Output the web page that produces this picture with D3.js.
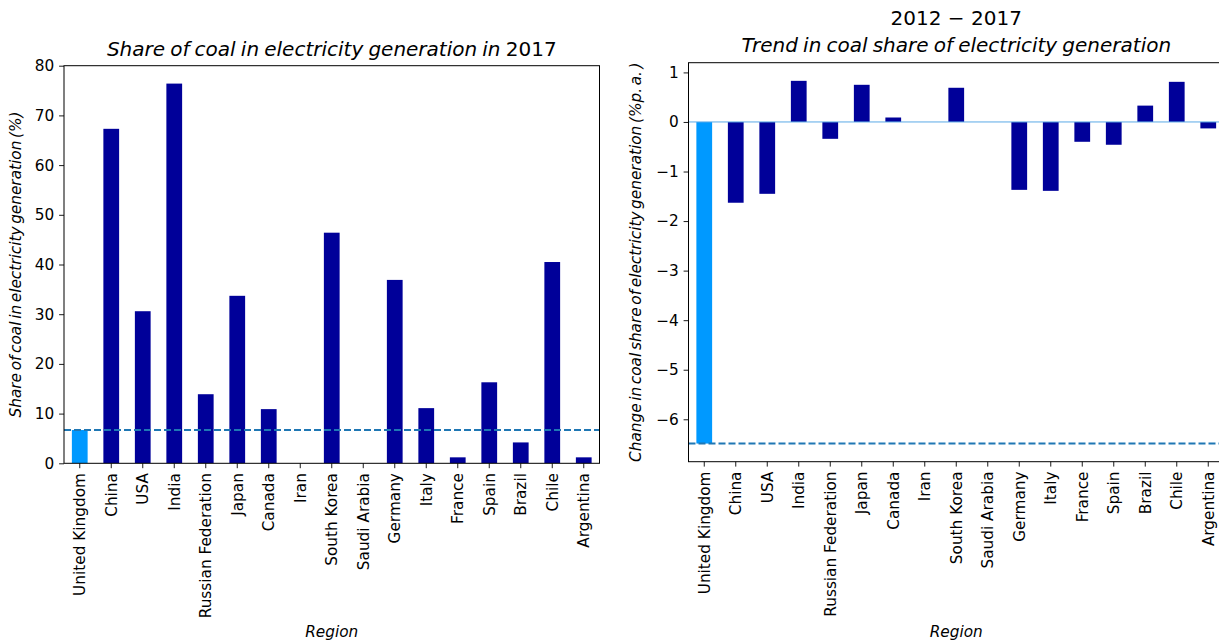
<!DOCTYPE html>
<html>
<head>
<meta charset="utf-8">
<script src="https://cdn.jsdelivr.net/npm/d3@7"></script>
<style>
  html, body { margin: 0; padding: 0; background: #fff; overflow: hidden; }
  svg { display: block; font-family: "DejaVu Sans", sans-serif; }
  .math { font-style: italic; word-spacing: -2.2px; }
  .math-title { font-style: italic; word-spacing: -1.2px; }
</style>
</head>
<body>
<svg id="fig" width="1219" height="643"></svg>
<script>
// Regions, in display order
const regions = ["United Kingdom", "China", "USA", "India", "Russian Federation", "Japan",
  "Canada", "Iran", "South Korea", "Saudi Arabia", "Germany", "Italy", "France", "Spain",
  "Brazil", "Chile", "Argentina"];

// Share of coal in electricity generation, 2017 (%)
const coalShare2017 = [6.7, 67.3, 30.6, 76.4, 13.9, 33.7, 10.9, 0, 46.4, 0, 36.9, 11.1, 1.2, 16.3, 4.2, 40.5, 1.2];

// Trend in coal share, 2012-2017 (% p.a.)
const coalTrend = [-6.49, -1.63, -1.45, 0.83, -0.34, 0.75, 0.09, 0, 0.69, 0, -1.37, -1.39, -0.40, -0.46, 0.33, 0.81, -0.13];

const leftTicks = [0, 10, 20, 30, 40, 50, 60, 70, 80];
const rightTicks = [1, 0, -1, -2, -3, -4, -5, -6];

const highlight = "United Kingdom";
const colHighlight = "#0099ff";
const colBar = "#000099";
const colRef = "#1f77b4";

const svg = d3.select("#fig");
const FS = 15.3;      // tick labels
const LFS = 15.3;     // axis titles
const TFS = 20;       // panel titles

function panel(opts) {
  const g = svg.append("g");
  const { x0, x1, y0, y1, values, yDomain, ticks } = opts;

  const x = d3.scaleBand().domain(regions).range([x0, x1]).paddingInner(0.5).paddingOuter(0.25);
  const y = d3.scaleLinear().domain(yDomain).range([y1, y0]);

  const clipId = "clip" + opts.id;
  svg.append("clipPath").attr("id", clipId).append("rect")
    .attr("x", x0).attr("y", y0).attr("width", x1 - x0).attr("height", y1 - y0);

  const plot = g.append("g").attr("clip-path", `url(#${clipId})`);

  // bars
  plot.selectAll("rect.bar").data(regions).join("rect")
    .attr("class", "bar")
    .attr("x", d => x(d))
    .attr("width", x.bandwidth())
    .attr("y", (d, i) => y(Math.max(0, values[i])))
    .attr("height", (d, i) => Math.abs(y(values[i]) - y(0)))
    .attr("fill", d => d === highlight ? colHighlight : colBar);

  // zero reference
  if (opts.zeroLine) {
    plot.append("line")
      .attr("x1", x0).attr("x2", x1).attr("y1", y(0)).attr("y2", y(0))
      .attr("stroke", "#5aa9e6").attr("stroke-width", 1);
  }

  // reference at highlighted region value
  const ref = values[regions.indexOf(highlight)];
  plot.append("line")
    .attr("x1", x0).attr("x2", x1).attr("y1", y(ref)).attr("y2", y(ref))
    .attr("stroke", colRef).attr("stroke-width", 1.9).attr("stroke-dasharray", "7,3");

  // axes
  const yAxis = d3.axisLeft(y).tickValues(ticks).tickSize(4.9).tickPadding(4.9)
    .tickFormat(d => d < 0 ? "\u2212" + Math.abs(d) : d);
  const ya = g.append("g").attr("transform", `translate(${x0},0)`).call(yAxis);
  ya.select(".domain").remove();
  ya.selectAll("text").attr("font-size", FS).attr("fill", "#000").attr("font-family", "DejaVu Sans");
  ya.selectAll("line").attr("stroke", "#000").attr("stroke-width", 0.9);

  const xAxis = d3.axisBottom(x).tickSize(4.9).tickPadding(0);
  const xa = g.append("g").attr("transform", `translate(0,${y1})`).call(xAxis);
  xa.select(".domain").remove();
  xa.selectAll("line").attr("stroke", "#000").attr("stroke-width", 0.9);
  xa.selectAll("text")
    .attr("font-size", FS).attr("fill", "#000").attr("font-family", "DejaVu Sans")
    .attr("transform", "rotate(-90)")
    .attr("text-anchor", "end")
    .attr("x", -9.8).attr("y", 0).attr("dy", "0.35em");

  // frame
  g.append("rect").attr("x", x0).attr("y", y0).attr("width", x1 - x0).attr("height", y1 - y0)
    .attr("fill", "none").attr("stroke", "#000").attr("stroke-width", 1);

  // axis titles
  g.append("text").attr("class", "math")
    .attr("x", (x0 + x1) / 2).attr("y", 637)
    .attr("text-anchor", "middle").attr("font-size", LFS).text("Region");

  g.append("text").attr("class", "math")
    .attr("transform", `translate(${opts.ylabelX},${(y0 + y1) / 2}) rotate(-90)`)
    .attr("text-anchor", "middle").attr("font-size", LFS)
    .text(opts.ylabel);

  // title
  opts.title.forEach(t => {
    const tx = g.append("text")
      .attr("x", (x0 + x1) / 2).attr("y", t.y)
      .attr("text-anchor", "middle").attr("font-size", TFS);
    t.parts.forEach(p => {
      tx.append("tspan").attr("class", p.italic ? "math-title" : null).text(p.text);
    });
  });
}

panel({
  id: "L",
  x0: 64, x1: 599.5, y0: 65.7, y1: 463.3,
  values: coalShare2017,
  yDomain: [0, 80],
  ticks: leftTicks,
  ylabelX: 21,
  ylabel: "Share of coal in electricity generation (%)",
  title: [{ y: 56, parts: [{ text: "Share of coal in electricity generation in ", italic: true }, { text: "2017" }] }]
});

// right panel: limits padded 5% around data range
const tMin = d3.min(coalTrend), tMax = d3.max(coalTrend), pad = 0.05 * (tMax - tMin);
panel({
  id: "R",
  x0: 688.5, x1: 1224, y0: 62.7, y1: 461.7,
  values: coalTrend,
  yDomain: [tMin - pad, tMax + pad],
  ticks: rightTicks,
  zeroLine: true,
  ylabelX: 641,
  ylabel: "Change in coal share of electricity generation (%p. a. )",
  title: [
    { y: 25, parts: [{ text: "2012 \u2212 2017" }] },
    { y: 52, parts: [{ text: "Trend in coal share of electricity generation", italic: true }] }
  ]
});
</script>
</body>
</html>
